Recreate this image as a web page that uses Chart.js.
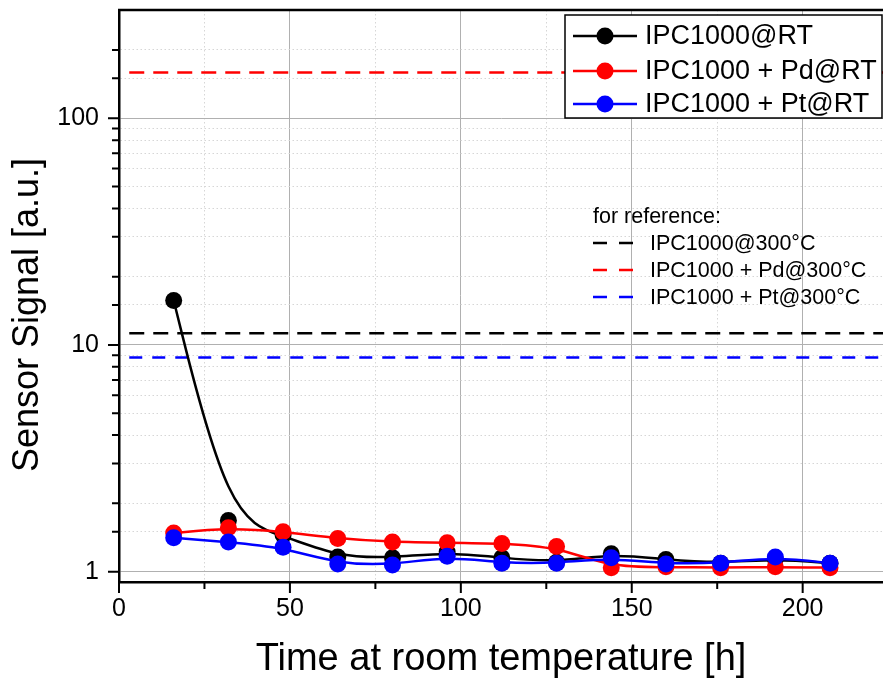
<!DOCTYPE html>
<html>
<head>
<meta charset="utf-8">
<script src="https://cdn.jsdelivr.net/npm/chart.js@4.4.1/dist/chart.umd.min.js"></script>
<style>
  html, body { margin: 0; padding: 0; background: #fff; overflow: hidden; }
  #wrap { width: 883px; height: 679px; }
  canvas { display: block; }
</style>
</head>
<body>
<div id="wrap"><canvas id="myChart"></canvas></div>
<script>
// hours at room temperature
const hours = [16, 32, 48, 64, 80, 96, 112, 128, 144, 160, 176, 192, 208];
// sensor signal
const ipcRT = [15.7, 1.68, 1.45, 1.16, 1.15, 1.22, 1.15, 1.10, 1.20, 1.13, 1.09, 1.14, 1.09];
const pdRT  = [1.48, 1.56, 1.50, 1.40, 1.35, 1.34, 1.33, 1.29, 1.04, 1.05, 1.04, 1.05, 1.04];
const ptRT  = [1.41, 1.35, 1.28, 1.08, 1.07, 1.17, 1.09, 1.09, 1.15, 1.08, 1.09, 1.16, 1.09];
// reference levels at 300 °C and the x span they are drawn over
const ipc300 = 11.26;
const pd300 = 158.9;
const pt300 = 8.79;
const refSpan = [3, 224];

const seriesLabels = ['IPC1000@RT', 'IPC1000 + Pd@RT', 'IPC1000 + Pt@RT'];
const refLabels = ['IPC1000@300°C', 'IPC1000 + Pd@300°C', 'IPC1000 + Pt@300°C'];
const colors = ['#000000', '#ff0000', '#0000ff'];

const FONT = "'Liberation Sans', Arial, sans-serif";
const isDecade = v => Math.abs(Math.log10(v) - Math.round(Math.log10(v))) < 1e-9;

const pts = ys => hours.map((h, i) => ({ x: h, y: ys[i] }));
const refLine = v => refSpan.map(x => ({ x: x, y: v }));

// Origin-like B-spline connection drawn through the library's point positions
const bspline = {
  id: 'bspline',
  beforeDatasetDraw(chart, args) {
    const ds = chart.data.datasets[args.index];
    if (!ds.bspline) return;
    const p = args.meta.data.map(e => ({ x: e.x, y: e.y }));
    const n = p.length;
    const q = [p[0], p[0], ...p, p[n - 1], p[n - 1]];
    const c = chart.ctx;
    c.save();
    c.beginPath();
    c.rect(chart.chartArea.left, chart.chartArea.top, chart.chartArea.width, chart.chartArea.height);
    c.clip();
    c.beginPath();
    c.strokeStyle = ds.borderColor;
    c.lineWidth = 2.5;
    c.moveTo(p[0].x, p[0].y);
    for (let i = 0; i + 3 < q.length; i++) {
      const b = q[i + 1], d = q[i + 2], e = q[i + 3];
      c.bezierCurveTo((2 * b.x + d.x) / 3, (2 * b.y + d.y) / 3,
                      (b.x + 2 * d.x) / 3, (b.y + 2 * d.y) / 3,
                      (b.x + 4 * d.x + e.x) / 6, (b.y + 4 * d.y + e.y) / 6);
    }
    c.stroke();
    c.restore();
  }
};

// frame, tick marks, y title and both legends
const decor = {
  id: 'decor',
  afterDraw(chart) {
    const { ctx, chartArea: a, scales: { x, y } } = chart;
    ctx.save();
    ctx.strokeStyle = '#000';
    ctx.lineWidth = 2;
    ctx.beginPath();
    y.ticks.forEach(t => {
      if (t.value <= y.min || t.value >= y.max) return;
      const py = y.getPixelForValue(t.value);
      const len = isDecade(t.value) ? 11 : 7;
      ctx.moveTo(a.left - len, py); ctx.lineTo(a.left, py);
    });
    x.ticks.forEach(t => {
      if (t.value % 25 !== 0) return;
      const px = x.getPixelForValue(t.value);
      const len = t.value % 50 === 0 ? 11 : 7;
      ctx.moveTo(px, a.bottom); ctx.lineTo(px, a.bottom + len);
    });
    ctx.stroke();
    // top frame line
    ctx.lineWidth = 2.5;
    ctx.beginPath();
    ctx.moveTo(a.left - 1, a.top);
    ctx.lineTo(a.right, a.top);
    ctx.stroke();

    // y title
    ctx.fillStyle = '#000';
    ctx.font = '36px ' + FONT;
    ctx.textAlign = 'center';
    ctx.textBaseline = 'middle';
    ctx.translate(28, 315);
    ctx.rotate(-Math.PI / 2);
    ctx.fillText('Sensor Signal [a.u.]', 0, 0);
    ctx.setTransform(1, 0, 0, 1, 0, 0);

    // main legend
    ctx.fillStyle = '#fff';
    ctx.fillRect(565, 15, 317, 103);
    ctx.lineWidth = 1.5;
    ctx.strokeStyle = '#000';
    ctx.strokeRect(565, 15, 317, 103);
    ctx.font = '27px ' + FONT;
    ctx.textAlign = 'left';
    const rows = [36, 71, 104];
    seriesLabels.forEach((s, i) => {
      ctx.strokeStyle = colors[i];
      ctx.lineWidth = 2.5;
      ctx.beginPath();
      ctx.moveTo(573, rows[i]); ctx.lineTo(637, rows[i]);
      ctx.stroke();
      ctx.fillStyle = colors[i];
      ctx.beginPath();
      ctx.arc(605, rows[i], 8.5, 0, Math.PI * 2);
      ctx.fill();
      ctx.fillStyle = '#000';
      ctx.fillText(s, 645, rows[i] + 1);
    });

    // reference legend
    ctx.font = '21.5px ' + FONT;
    ctx.fillStyle = '#000';
    ctx.fillText('for reference:', 593, 217);
    const rrows = [243, 270, 297];
    refLabels.forEach((s, i) => {
      ctx.strokeStyle = colors[i];
      ctx.lineWidth = 2.5;
      ctx.setLineDash([14, 12]);
      ctx.beginPath();
      ctx.moveTo(593, rrows[i]); ctx.lineTo(634, rrows[i]);
      ctx.stroke();
      ctx.setLineDash([]);
      ctx.fillStyle = '#000';
      ctx.fillText(s, 650, rrows[i] + 1);
    });
    ctx.restore();
  }
};

const ctx = document.getElementById('myChart');

new Chart(ctx, {
  type: 'line',
  data: {
    datasets: [
      { label: seriesLabels[0], data: pts(ipcRT), borderColor: colors[0], backgroundColor: colors[0],
        showLine: false, bspline: true, pointRadius: 8.5, pointBorderWidth: 0, order: 3 },
      { label: seriesLabels[1], data: pts(pdRT), borderColor: colors[1], backgroundColor: colors[1],
        showLine: false, bspline: true, pointRadius: 8.5, pointBorderWidth: 0, order: 2 },
      { label: seriesLabels[2], data: pts(ptRT), borderColor: colors[2], backgroundColor: colors[2],
        showLine: false, bspline: true, pointRadius: 8.5, pointBorderWidth: 0, order: 1 },
      { label: refLabels[0], data: refLine(ipc300), borderColor: colors[0], borderWidth: 2.5,
        borderDash: [15, 9], pointRadius: 0, order: 6 },
      { label: refLabels[1], data: refLine(pd300), borderColor: colors[1], borderWidth: 2.5,
        borderDash: [15, 9], pointRadius: 0, order: 5 },
      { label: refLabels[2], data: refLine(pt300), borderColor: colors[2], borderWidth: 2.5,
        borderDash: [13, 10], pointRadius: 0, order: 4 }
    ]
  },
  options: {
    responsive: true,
    maintainAspectRatio: false,
    animation: false,
    layout: { autoPadding: false, padding: { top: 10, right: 0, left: 0, bottom: 0 } },
    plugins: { legend: { display: false }, tooltip: { enabled: false } },
    scales: {
      x: {
        type: 'linear',
        min: 0,
        max: 223.5,
        afterFit: s => { s.height = 97; s.paddingLeft = 0; s.paddingRight = 0; },
        ticks: {
          stepSize: 25,
          includeBounds: false,
          autoSkip: false,
          maxRotation: 0,
          padding: 2,
          color: '#000',
          font: { family: FONT, size: 25 },
          callback: v => (v % 50 === 0 ? String(v) : '')
        },
        grid: {
          color: c => {
            const v = c.tick ? c.tick.value : 0;
            if (v % 50 === 0) return '#b0b0b0';
            if (v % 25 === 0) return '#d6d6d6';
            return 'rgba(0,0,0,0)';
          },
          lineWidth: 1,
          tickLength: 10,
          tickColor: 'rgba(0,0,0,0)'
        },
        border: {
          color: '#000',
          width: 2.5,
          dash: c => (c.tick && c.tick.value % 50 !== 0 ? [1.5, 2.5] : [])
        },
        title: {
          display: true,
          text: 'Time at room temperature [h]',
          color: '#000',
          font: { family: FONT, size: 38, lineHeight: 1 },
          padding: { top: 0, bottom: 0 }
        }
      },
      y: {
        type: 'logarithmic',
        min: 0.9,
        max: 300,
        afterFit: s => { s.width = 119; s.paddingTop = 0; s.paddingBottom = 0; },
        ticks: {
          autoSkip: false,
          padding: 10,
          color: '#000',
          font: { family: FONT, size: 25 },
          callback: v => (isDecade(v) ? String(Math.round(v)) : '')
        },
        grid: {
          color: c => {
            const v = c.tick ? c.tick.value : 1;
            return isDecade(v) ? '#b0b0b0' : '#d6d6d6';
          },
          lineWidth: 1,
          tickLength: 10,
          tickColor: 'rgba(0,0,0,0)'
        },
        border: {
          color: '#000',
          width: 2.5,
          dash: c => (c.tick && !isDecade(c.tick.value) ? [1.5, 2.5] : [])
        }
      }
    }
  },
  plugins: [bspline, decor]
});
</script>
</body>
</html>
